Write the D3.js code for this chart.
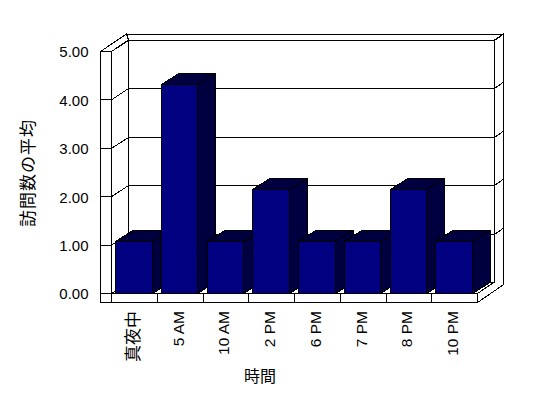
<!DOCTYPE html>
<html>
<head>
<meta charset="utf-8">
<script src="https://cdn.jsdelivr.net/npm/d3@7"></script>
<style>
	body { margin: 0; background: #fff; }
	svg { display: block; shape-rendering: crispEdges; }
</style>
</head>
<body>
<svg id="chart" width="548" height="398"></svg>
<script>

function whenDocumentLoaded(action) {
	if (document.readyState === "loading") {
		document.addEventListener("DOMContentLoaded", action);
	} else {
		action();
	}
}

const CATEGORIES = ['真夜中', '5 AM', '10 AM', '2 PM', '6 PM', '7 PM', '8 PM', '10 PM'];
const AVG_VISITS = [1, 4, 1, 2, 1, 1, 2, 1];
const Y_TICKS = [0, 1, 2, 3, 4, 5];
const Y_TITLE = '訪問数の平均';
const X_TITLE = '時間';

const LATIN_FONT = '"Liberation Sans", Arial, sans-serif';
const CJK_FONT = '"Noto Sans CJK JP", sans-serif';

// depth offsets of the oblique 3D box
const WALL = { dx: 17, dy: -11.5 };   // front plane -> inner back wall
const OUTER = { dx: 26, dy: -17.5 };  // front plane -> outer side of the walls
const BAR = { dx: 17.5, dy: -11 };    // column depth

const NAVY = '#000080';
const NAVY_SHADE = '#000040';  // side and top faces (navy/black dither in the original)

class Column3D {
	constructor(containerId, data) {
		this.svg = d3.select(`#${containerId}`);
		this.data = data;
		this.scale = {};
		this.scale.x = d3.scaleBand()
			.domain(CATEGORIES)
			.range([111.5, 477.5])
			.paddingInner(0.2)
			.paddingOuter(0.1);
		// ticks on the front edge of the left wall
		this.scale.y = d3.scaleLinear()
			.domain([0, 5])
			.range([293.5, 51.5]);
		// the 3D view draws the columns a little taller than the wall scale
		this.scale.bar = d3.scaleLinear()
			.domain([0, 5])
			.range([293.5, 293.5 - 5 * 52.3]);
	}

	poly(g, pts, fill) {
		return g.append("polygon")
			.attr("points", pts.map(p => p.join(",")).join(" "))
			.attr("fill", fill)
			.attr("stroke", "#000")
			.attr("stroke-width", 1)
			.attr("stroke-linejoin", "miter");
	}

	line(g, x1, y1, x2, y2) {
		g.append("line")
			.attr("x1", x1).attr("y1", y1)
			.attr("x2", x2).attr("y2", y2)
			.attr("stroke", "#000")
			.attr("stroke-width", 1);
	}

	show() {
		const svg = this.svg;
		const x = this.scale.x, y = this.scale.y;
		const x0 = x.range()[0], x1 = x.range()[1];
		const yTop = y(5), yBase = y(0);
		const yFloorFront = yBase + 9;
		const xFront = x0 - 11;

		const box = svg.append("g").attr("class", "box");

		// back wall
		this.poly(box, [
			[x0 + WALL.dx, yTop + WALL.dy], [x1 + WALL.dx, yTop + WALL.dy],
			[x1 + WALL.dx, yBase + WALL.dy], [x0 + WALL.dx, yBase + WALL.dy]
		], "#fff");
		// top of the back wall
		this.poly(box, [
			[xFront + OUTER.dx, yTop + OUTER.dy], [x1 + OUTER.dx - 0.5, yTop + OUTER.dy],
			[x1 + WALL.dx, yTop + WALL.dy], [x0 + WALL.dx, yTop + WALL.dy]
		], "#fff");
		// right side of back wall and floor
		this.poly(box, [
			[x1, yBase], [x1 + WALL.dx, yBase + WALL.dy], [x1 + WALL.dx, yTop + WALL.dy],
			[x1 + OUTER.dx - 0.5, yTop + OUTER.dy], [x1 + OUTER.dx - 0.5, yFloorFront + OUTER.dy],
			[x1, yFloorFront]
		], "#fff");
		// inner face of the left wall
		this.poly(box, [
			[x0, yTop], [x0 + WALL.dx, yTop + WALL.dy],
			[x0 + WALL.dx, yBase + WALL.dy], [x0, yBase]
		], "#fff");
		// top of the left wall
		this.poly(box, [
			[xFront, yTop], [xFront + OUTER.dx, yTop + OUTER.dy],
			[x0 + WALL.dx, yTop + WALL.dy], [x0, yTop]
		], "#fff");
		// floor top
		this.poly(box, [
			[x0, yBase], [x1, yBase], [x1 + WALL.dx, yBase + WALL.dy], [x0 + WALL.dx, yBase + WALL.dy]
		], "#fff");
		// floor front
		this.poly(box, [
			[xFront, yBase], [x1, yBase], [x1, yFloorFront], [xFront, yFloorFront]
		], "#fff");
		// left wall front
		this.poly(box, [
			[xFront, yTop], [x0, yTop], [x0, yFloorFront], [xFront, yFloorFront]
		], "#fff");

		// gridlines running over the walls
		Y_TICKS.forEach(v => {
			const yf = y(v);
			const yb = Math.round(yf + WALL.dy) + 0.5;
			this.line(box, xFront, yf, x0, yf);
			if (v > 0) {
				this.line(box, x0, yf, x0 + WALL.dx, yb);
				this.line(box, x0 + WALL.dx, yb, x1 + WALL.dx, yb);
				this.line(box, x1 + WALL.dx, yb, x1 + OUTER.dx - 0.5, yb - 6);
			}
		});

		// category ticks on the floor front
		d3.range(1, CATEGORIES.length).forEach(i => {
			const xt = Math.round(x0 + i * x.step() - 0.5) + 0.5;
			this.line(box, xt, yBase, xt, yFloorFront);
		});

		// columns, left to right so each front covers the previous side
		const bars = svg.append("g").attr("class", "bars");
		this.data.forEach(d => {
			const xl = Math.round(x(d.name)) - 0.5;
			const xr = Math.round(x(d.name) + x.bandwidth()) - 0.5;
			const yt = Math.round(this.scale.bar(d.value)) + 0.5;
			const g = bars.append("g");
			this.poly(g, [
				[xr, yt], [xr + BAR.dx, yt + BAR.dy], [xr + BAR.dx, yBase + BAR.dy], [xr, yBase]
			], NAVY_SHADE);
			this.poly(g, [
				[xl, yt], [xl + BAR.dx, yt + BAR.dy], [xr + BAR.dx, yt + BAR.dy], [xr, yt]
			], NAVY_SHADE);
			this.poly(g, [
				[xl, yt], [xr, yt], [xr, yBase], [xl, yBase]
			], NAVY);
		});

		// value labels
		const yAxis = d3.axisLeft(y)
			.tickValues(Y_TICKS)
			.tickFormat(d3.format(".2f"))
			.tickSize(0)
			.tickPadding(12);
		const ya = svg.append("g")
			.attr("transform", `translate(${xFront},0)`)
			.call(yAxis);
		ya.select(".domain").remove();
		ya.selectAll("text")
			.attr("font-family", LATIN_FONT)
			.attr("font-size", 15)
			.attr("fill", "#000")
			.attr("dy", "0.36em");

		// category labels, rotated
		svg.append("g")
			.selectAll("text")
			.data(CATEGORIES)
			.enter()
			.append("text")
			.attr("transform", d => `translate(${x(d) + x.bandwidth() / 2 - 2},311) rotate(-90)`)
			.attr("text-anchor", "end")
			.attr("dy", "0.36em")
			.attr("font-family", d => /[^\x00-\x7F]/.test(d) ? CJK_FONT : LATIN_FONT)
			.attr("font-size", d => /[^\x00-\x7F]/.test(d) ? 17 : 15.5)
			.attr("fill", "#000")
			.text(d => d);

		svg.append("text")
			.attr("transform", "translate(27.5,173) rotate(-90)")
			.attr("text-anchor", "middle")
			.attr("dy", "0.36em")
			.attr("font-family", CJK_FONT)
			.attr("font-size", 17)
			.attr("letter-spacing", 1)
			.text(Y_TITLE);

		svg.append("text")
			.attr("x", 260)
			.attr("y", 376)
			.attr("text-anchor", "middle")
			.attr("dy", "0.36em")
			.attr("font-family", CJK_FONT)
			.attr("font-size", 16)
			.text(X_TITLE);
	}
}

whenDocumentLoaded(() => {
	const data = AVG_VISITS.map((v, i) => ({ name: CATEGORIES[i], value: v }));
	const chart = new Column3D('chart', data);
	chart.show();
});

</script>
</body>
</html>
